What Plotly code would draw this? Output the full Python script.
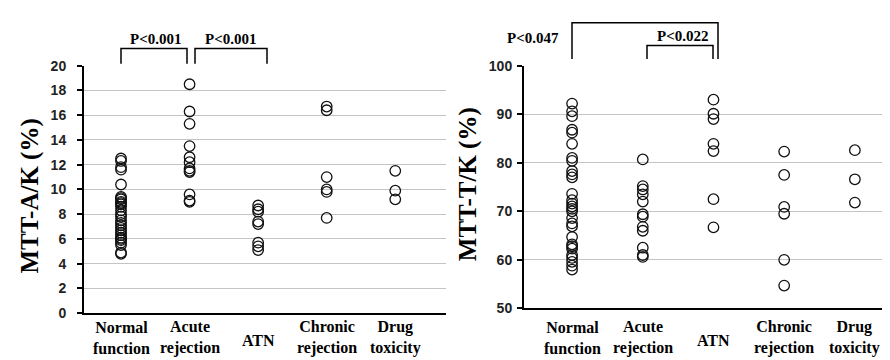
import plotly.graph_objects as go

# ---------------- data ----------------
categories = ["Normal function", "Acute rejection", "ATN", "Chronic rejection", "Drug toxicity"]
category_labels = ["Normal<br>function", "Acute<br>rejection", "ATN", "Chronic<br>rejection", "Drug<br>toxicity"]

mtt_ak_normal = [12.5, 12.3, 11.8, 11.6, 10.4, 9.4, 9.3, 9.2, 9.0, 8.9, 8.8, 8.6, 8.3, 8.0, 7.8,
                 7.5, 7.3, 7.1, 6.9, 6.7, 6.5, 6.3, 6.1, 6.0, 5.9, 5.7, 5.5, 4.9, 4.8]
mtt_ak_acute = [18.5, 16.3, 15.3, 13.5, 12.6, 12.2, 11.7, 11.5, 11.4, 9.6, 9.1, 9.0]
mtt_ak_atn = [8.7, 8.4, 8.2, 7.4, 7.2, 5.7, 5.4, 5.1]
mtt_ak_chronic = [16.7, 16.4, 11.0, 10.0, 9.8, 7.7]
mtt_ak_drug = [11.5, 9.9, 9.2]

mtt_tk_normal = [92.2, 90.6, 89.6, 86.8, 86.2, 83.9, 81.0, 80.4, 78.3, 77.6, 77.0, 73.6, 72.3, 71.6, 71.0,
                 70.5, 70.0, 68.6, 67.5, 66.9, 64.7, 63.2, 62.8, 62.3, 61.0, 60.4, 59.6, 58.8, 58.0]
mtt_tk_acute = [80.7, 75.2, 74.5, 73.5, 72.0, 69.4, 68.9, 66.8, 66.0, 62.5, 61.0, 60.6]
mtt_tk_atn = [93.0, 90.1, 89.0, 83.9, 82.4, 72.5, 66.7]
mtt_tk_chronic = [82.3, 77.5, 70.9, 69.5, 60.0, 54.7]
mtt_tk_drug = [82.6, 76.6, 71.8]

left_groups = [mtt_ak_normal, mtt_ak_acute, mtt_ak_atn, mtt_ak_chronic, mtt_ak_drug]
right_groups = [mtt_tk_normal, mtt_tk_acute, mtt_tk_atn, mtt_tk_chronic, mtt_tk_drug]

left_pvalues = ["P<0.001", "P<0.001"]
right_pvalues = ["P<0.047", "P<0.022"]

# ---------------- figure ----------------
W, H = 890, 360
def px(x):
    return x / W
def py(y):
    return 1 - y / H

def flatten(groups):
    xs, ys = [], []
    for cat, vals in zip(categories, groups):
        xs += [cat] * len(vals)
        ys += list(vals)
    return xs, ys

marker = dict(symbol="circle-open", size=10.5, color="#111111", line=dict(width=1.3, color="#111111"))

fig = go.Figure()
lx, ly = flatten(left_groups)
rx, ry = flatten(right_groups)
fig.add_trace(go.Scatter(x=lx, y=ly, mode="markers", marker=marker, xaxis="x", yaxis="y", showlegend=False))
fig.add_trace(go.Scatter(x=rx, y=ry, mode="markers", marker=marker, xaxis="x2", yaxis="y2", showlegend=False))

tick_font = dict(family="Liberation Sans, Arial, sans-serif", size=14, color="#222222", weight="bold")
serif_bold = "Liberation Serif, Times New Roman, serif"

common_x = dict(type="category", categoryorder="array", categoryarray=categories,
                showline=True, linecolor="black", linewidth=2, showgrid=False,
                showticklabels=False, ticks="", zeroline=False, fixedrange=True)
common_y = dict(showline=True, linecolor="black", linewidth=2, ticks="outside", ticklen=5,
                tickwidth=1.5, tickcolor="black", showgrid=True, gridcolor="#c4c4c4", gridwidth=1,
                zeroline=False, tickfont=tick_font)

fig.update_layout(
    width=W, height=H,
    margin=dict(l=0, r=0, t=0, b=0),
    paper_bgcolor="white", plot_bgcolor="white",
    xaxis=dict(common_x, domain=[px(76), px(438)], range=[-0.54, 4.74], anchor="y"),
    yaxis=dict(common_y, domain=[py(311), py(52)], range=[0, 20], dtick=2, anchor="x",
               ticklabelstandoff=8),
    xaxis2=dict(common_x, domain=[px(516), 1.0], range=[-0.68, 4.61], anchor="y2"),
    yaxis2=dict(common_y, domain=[py(306), py(52)], range=[50, 100], dtick=10, anchor="x2",
                ticklabelstandoff=2),
)

annotations = []
# y-axis titles
annotations.append(dict(text="MTT-A/K (%)", xref="paper", yref="paper", x=px(22), y=py(189),
                        xanchor="center", yanchor="middle", textangle=-90, showarrow=False,
                        font=dict(family=serif_bold, size=25, color="black", weight="bold")))
annotations.append(dict(text="MTT-T/K (%)", xref="paper", yref="paper", x=px(460), y=py(176),
                        xanchor="center", yanchor="middle", textangle=-90, showarrow=False,
                        font=dict(family=serif_bold, size=25, color="black", weight="bold")))
# category labels (bottom edge of the figure, as in the original crop)
for xa in ("x", "x2"):
    for cat, lab in zip(categories, category_labels):
        annotations.append(dict(text=lab, xref=xa, yref="paper", x=cat,
                                y=py(359) if "<br>" in lab else py(340),
                                xanchor="center", yanchor="bottom" if "<br>" in lab else "middle",
                                showarrow=False,
                                font=dict(family=serif_bold, size=16, color="black", weight="bold")))

# p-value labels
pfont = dict(family=serif_bold, size=15, color="black", weight="bold")
for text, (cx, cy) in zip(left_pvalues + right_pvalues, [(147, 24), (222, 24), (525, 23), (674, 21)]):
    annotations.append(dict(text=text, xref="paper", yref="paper", x=px(cx), y=py(cy),
                            xanchor="center", yanchor="middle", showarrow=False, font=pfont))
fig.update_layout(annotations=annotations)

# brackets
def bracket(x0, x1, ytop, ybot):
    path = f"M {px(x0)},{py(ybot)} L {px(x0)},{py(ytop)} L {px(x1)},{py(ytop)} L {px(x1)},{py(ybot)}"
    return dict(type="path", xref="paper", yref="paper", path=path,
                line=dict(color="black", width=1.5))

fig.update_layout(shapes=[
    bracket(113, 179, 34, 50),
    bracket(187, 259, 34, 50),
    bracket(564, 710, 7, 45),
    bracket(639, 705, 31, 45),
])

fig.write_html("out.html")
